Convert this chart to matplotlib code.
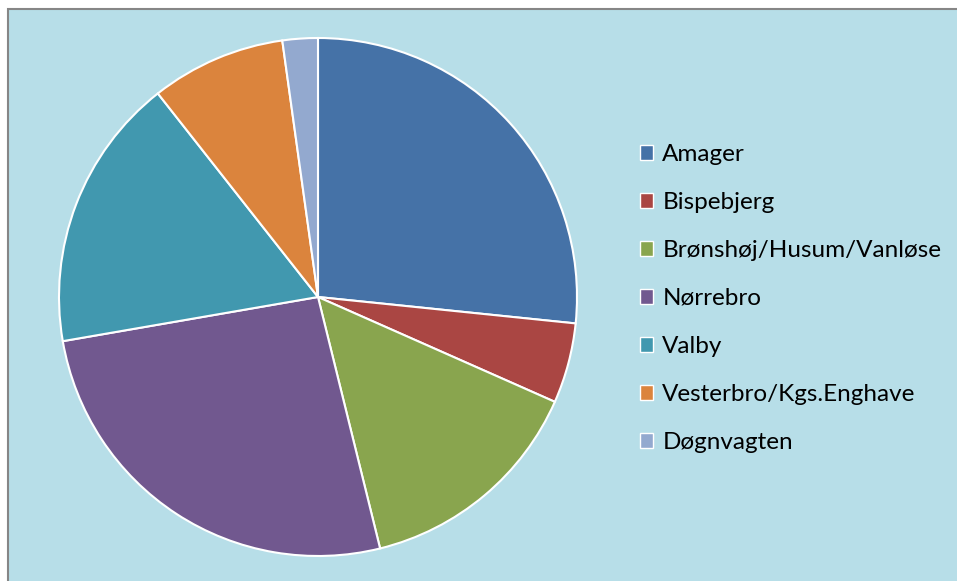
import matplotlib.pyplot as plt
from matplotlib.patches import Rectangle, Patch

labels = ['Amager', 'Bispebjerg', 'Brønshøj/Husum/Vanløse', 'Nørrebro',
          'Valby', 'Vesterbro/Kgs.Enghave', 'Døgnvagten']
shares = [26.6, 5.0, 14.5, 26.1, 17.1, 8.4, 2.2]
colors = ['#4572A7', '#AA4643', '#89A54E', '#71588F', '#4198AF', '#DB843D', '#93A9CF']

plt.rcParams['font.family'] = ['Lato', 'DejaVu Sans']

fig = plt.figure(figsize=(9.57, 5.81), dpi=100)
fig.patch.set_facecolor('white')

# chart area background with grey frame
bg = Rectangle((8/957, -0.05), 1.1, 1.05 - 9/581, transform=fig.transFigure,
               facecolor='#B7DEE8', edgecolor='#868686', linewidth=1.5, zorder=-1)
fig.patches.append(bg)

ax = fig.add_axes([59/957, 25/581, 518/957, 518/581])
ax.set_zorder(2)
ax.pie(shares, colors=colors, startangle=90, counterclock=False, radius=1,
       wedgeprops={'edgecolor': 'white', 'linewidth': 1.5})
ax.set_xlim(-1, 1)
ax.set_ylim(-1, 1)
ax.set_aspect('equal')
ax.axis('off')

handles = [Patch(facecolor=c, edgecolor='white', linewidth=1) for c in colors]
leg = fig.legend(handles, labels, loc='upper left', bbox_to_anchor=(640/957, 1 - 144/581),
                 frameon=False, fontsize=17.5, handlelength=0.55, handleheight=0.55,
                 handletextpad=0.37, labelspacing=1.11, borderpad=0, borderaxespad=0)
leg.set_zorder(3)

plt.savefig('out.png', dpi=100)
